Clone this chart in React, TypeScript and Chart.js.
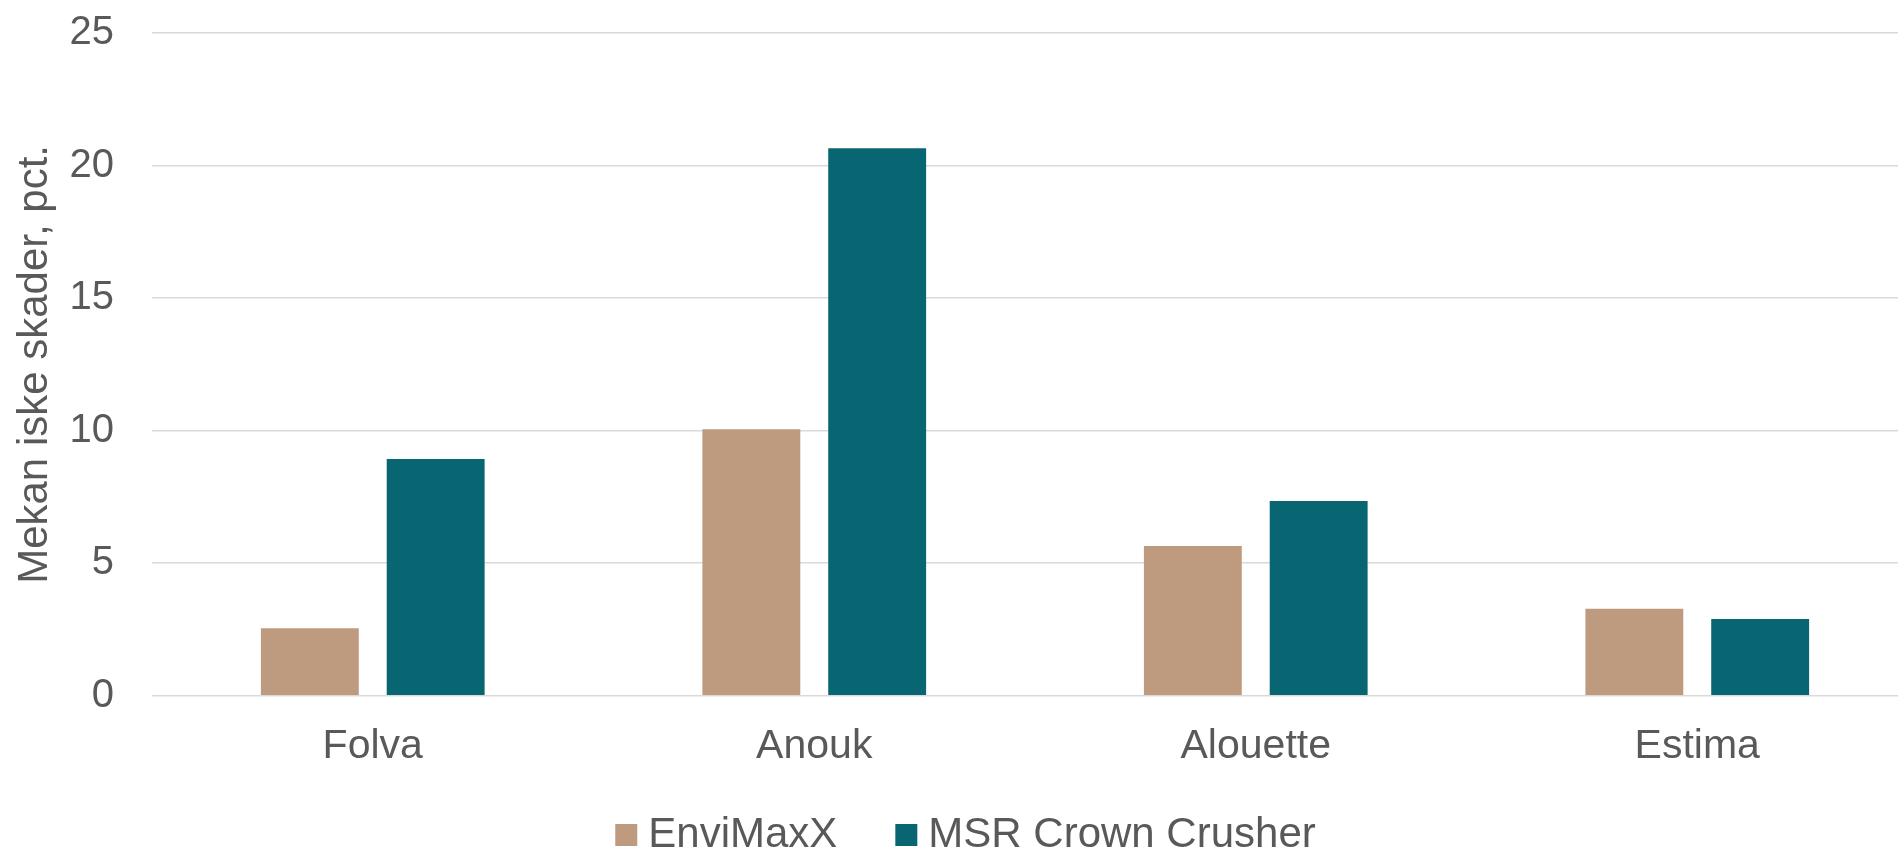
import React, { useEffect, useRef } from "react";
import { Chart, registerables } from "chart.js";

Chart.register(...registerables);

const categories = ["Folva", "Anouk", "Alouette", "Estima"];
const seriesNames = ["EnviMaxX", "MSR Crown Crusher"];
const enviMaxXValues = [2.55, 10.05, 5.65, 3.28];
const msrCrownCrusherValues = [8.93, 20.65, 7.35, 2.9];
const yTickValues = [0, 5, 10, 15, 20, 25];
const yTitle = "Mekan iske skader, pct.";

const seriesColors = ["#BE9A7F", "#086672"];
const textColor = "#595959";
const gridColor = "#D9D9D9";
const FONT = "'Liberation Sans', Arial, Helvetica, sans-serif";

const CANVAS_W = 1931;
const CANVAS_H = 850;

const legendPlugin = {
  id: "customLegend",
  afterDraw(chart: any) {
    const ctx = chart.ctx as CanvasRenderingContext2D;
    const fontSize = 42;
    const box = 22;
    const boxGap = 11;
    const itemGap = 58;
    ctx.save();
    ctx.font = `${fontSize}px ${FONT}`;
    const items = chart.data.datasets.map((ds: any) => ({
      label: ds.label as string,
      color: ds.backgroundColor as string,
      w: ctx.measureText(ds.label).width,
    }));
    const total =
      items.reduce((s: number, it: any) => s + box + boxGap + it.w, 0) +
      itemGap * (items.length - 1);
    let x = chart.width / 2 - total / 2;
    const baseline = chart.height - 3;
    const boxTop = chart.height - 26;
    ctx.textBaseline = "alphabetic";
    ctx.textAlign = "left";
    for (const it of items) {
      ctx.fillStyle = it.color;
      ctx.fillRect(x, boxTop, box, box);
      x += box + boxGap;
      ctx.fillStyle = textColor;
      ctx.fillText(it.label, x, baseline);
      x += it.w + itemGap;
    }
    ctx.restore();
  },
};

export default function App() {
  const canvasRef = useRef<HTMLCanvasElement | null>(null);

  useEffect(() => {
    document.body.style.overflow = "hidden";
    document.body.style.background = "#FFFFFF";
    const canvas = canvasRef.current;
    if (!canvas) return;
    const chart = new Chart(canvas, {
      type: "bar",
      data: {
        labels: categories,
        datasets: [
          {
            label: seriesNames[0],
            data: enviMaxXValues,
            backgroundColor: seriesColors[0],
            borderWidth: 0,
          },
          {
            label: seriesNames[1],
            data: msrCrownCrusherValues,
            backgroundColor: seriesColors[1],
            borderWidth: 0,
          },
        ],
      },
      options: {
        responsive: false,
        animation: false,
        devicePixelRatio: 1,
        datasets: {
          bar: {
            barPercentage: 0.778,
            categoryPercentage: 0.57,
          },
        },
        layout: {
          padding: { left: 0, right: 13, top: 33, bottom: 53 },
        },
        plugins: {
          legend: { display: false },
          tooltip: { enabled: false },
        },
        scales: {
          x: {
            grid: { display: false, drawTicks: false },
            border: { display: false },
            ticks: {
              color: textColor,
              padding: 26,
              font: { family: FONT, size: 41 },
              maxRotation: 0,
            },
          },
          y: {
            min: 0,
            max: 25,
            afterFit: (scale: any) => {
              scale.width = 152;
              scale.paddingTop = 0;
              scale.paddingBottom = 0;
            },
            afterBuildTicks: (scale: any) => {
              scale.ticks = yTickValues.map((v) => ({ value: v }));
            },
            grid: { color: gridColor, lineWidth: 1.5, drawTicks: false },
            border: { display: false },
            ticks: {
              color: textColor,
              padding: 38,
              font: { family: FONT, size: 40 },
            },
            title: {
              display: true,
              text: yTitle,
              color: textColor,
              font: { family: FONT, size: 42 },
              padding: { top: 10, bottom: 0 },
            },
          },
        },
      },
      plugins: [legendPlugin],
    });
    return () => chart.destroy();
  }, []);

  return (
    <div
      style={{
        position: "fixed",
        left: 0,
        top: 0,
        width: CANVAS_W,
        height: CANVAS_H,
        background: "#FFFFFF",
      }}
    >
      <canvas
        ref={canvasRef}
        width={CANVAS_W}
        height={CANVAS_H}
        style={{ width: CANVAS_W, height: CANVAS_H, display: "block" }}
      />
    </div>
  );
}
